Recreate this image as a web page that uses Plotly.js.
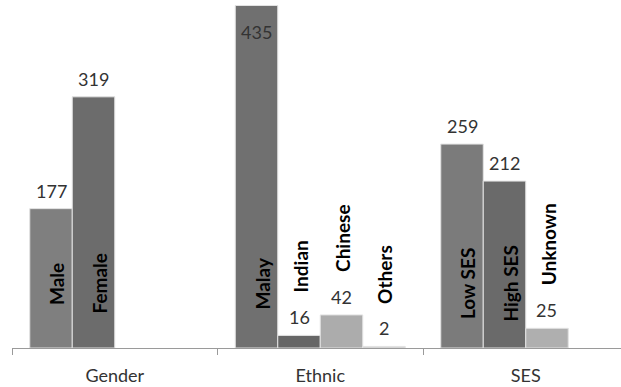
<!DOCTYPE html>
<html>
<head>
<meta charset="utf-8">
<script src="https://cdn.plot.ly/plotly-3.0.1.min.js"></script>
<style>
html,body{margin:0;padding:0;background:#fff;}
#chart{width:621px;height:387px;}
</style>
</head>
<body>
<div id="chart"></div>
<script>
// ---- data ----
const groups = ['Gender', 'Ethnic', 'SES'];
const genderLabels = ['Male', 'Female'];
const genderValues = [177, 319];
const ethnicLabels = ['Malay', 'Indian', 'Chinese', 'Others'];
const ethnicValues = [435, 16, 42, 2];
const sesLabels = ['Low SES', 'High SES', 'Unknown'];
const sesValues = [259, 212, 25];

// ---- styles ----
const slotColors = [
  ['#7f7f7f', '#707070', '#7b7b7b'],
  ['#6c6c6c', '#666666', '#6a6a6a'],
  ['#acacac', '#acacac', '#afafaf'],
  ['#c8c8c8', '#c8c8c8', '#c8c8c8']
];
const FONT = 'Lato, "Liberation Sans", Arial, sans-serif';
const BARGAP = 0.173;
const NSLOTS = 4;
const barW = (1 - BARGAP) / NSLOTS;

const groupLabels = [genderLabels, ethnicLabels, sesLabels];
const groupValues = [genderValues, ethnicValues, sesValues];

const traces = [];
const annotations = [];
for (let k = 0; k < NSLOTS; k++) {
  const y = groupValues.map(v => (v[k] === undefined ? null : v[k]));
  traces.push({
    type: 'bar',
    x: groups,
    y: y,
    marker: { color: slotColors[k], line: { color: '#e2e2e2', width: 1 } },
    hoverinfo: 'none',
    showlegend: false
  });
  groups.forEach((g, gi) => {
    const v = groupValues[gi][k];
    const name = groupLabels[gi][k];
    if (v === undefined) return;
    const xc = gi + (k - (NSLOTS - 1) / 2) * barW;
    // value label
    if (v > 400) {
      annotations.push({ x: xc, y: v, xref: 'x', yref: 'y', text: String(v), showarrow: false,
        yanchor: 'top', yshift: -13, font: { family: FONT, size: 18, color: '#333' } });
    } else {
      annotations.push({ x: xc, y: v, xref: 'x', yref: 'y', text: String(v), showarrow: false,
        yanchor: 'bottom', yshift: 5, font: { family: FONT, size: 18, color: '#333' } });
    }
    // category name
    if (v > 100) {
      annotations.push({ x: xc, y: 0, xref: 'x', yref: 'y', text: '<b>' + name + '</b>', showarrow: false,
        textangle: -90, yanchor: 'middle', yshift: 64, xshift: 5,
        font: { family: FONT, size: 19, color: '#000' } });
    } else {
      annotations.push({ x: xc, y: v, xref: 'x', yref: 'y', text: '<b>' + name + '</b>', showarrow: false,
        textangle: -90, yanchor: 'bottom', yshift: 41, xshift: 1,
        font: { family: FONT, size: 19, color: '#000' } });
    }
  });
}

const layout = {
  width: 621, height: 387,
  margin: { l: 12, r: 0, t: 0, b: 39 },
  paper_bgcolor: '#fff', plot_bgcolor: '#fff',
  barmode: 'group', bargap: BARGAP, bargroupgap: 0,
  showlegend: false,
  xaxis: {
    type: 'category',
    range: [-0.5, -0.5 + 609 / 205.5],
    showline: true, linecolor: '#9a9a9a', linewidth: 1,
    ticks: 'outside', tickson: 'boundaries', ticklen: 6, tickcolor: '#9a9a9a', tickwidth: 1,
    ticklabelstandoff: 11,
    showgrid: false, zeroline: false,
    tickfont: { family: FONT, size: 18, color: '#333' }
  },
  yaxis: { range: [0, 442], visible: false, showgrid: false, zeroline: false },
  annotations: annotations
};

Plotly.newPlot('chart', traces, layout, { displayModeBar: false, staticPlot: true });
</script>
</body>
</html>
